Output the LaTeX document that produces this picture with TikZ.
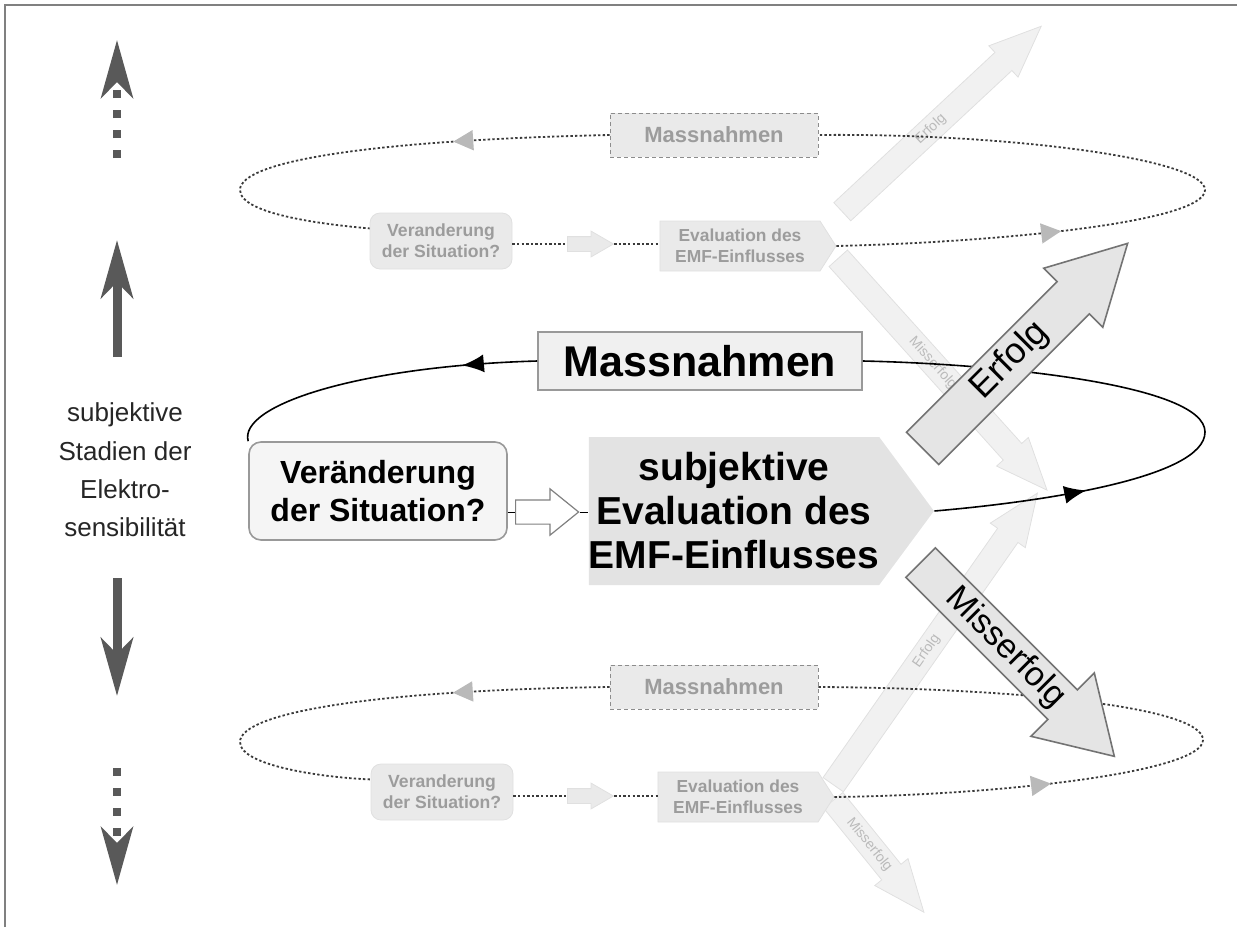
\documentclass[tikz,border=0pt]{standalone}
\usepackage{fontspec}
\setmainfont{Liberation Sans}
\usetikzlibrary{arrows.meta,shapes.arrows,shapes.symbols,decorations.markings}

\definecolor{framegray}{HTML}{808080}
\definecolor{stagegray}{HTML}{595959}
\definecolor{boxfill}{HTML}{F0F0F0}
\definecolor{evalfill}{HTML}{E3E3E3}
\definecolor{fadefill}{HTML}{EAEAEA}
\definecolor{fadetext}{HTML}{9C9C9C}
\definecolor{fadedot}{HTML}{3A3A3A}
\definecolor{ghostfill}{HTML}{F1F1F1}
\definecolor{ghostline}{HTML}{E0E0E0}

\begin{document}
\begin{tikzpicture}[x=0.5pt,y=-0.5pt]
    \tikzstyle{stage}=[draw=stagegray,line width=4.5pt,-{Stealth[length=29pt,width=16pt,inset=8pt]}]
    \tikzstyle{stagedots}=[stage,line width=4pt,dash pattern=on 4pt off 6pt]
    \tikzstyle{bigbox}=[draw=gray!80,fill=boxfill,line width=0.8pt,inner sep=0pt,
        font=\bfseries\fontsize{21.5}{25}\selectfont,minimum width=162pt,minimum height=29pt]
    \tikzstyle{bigchange}=[draw=gray!80,fill=black!4,line width=0.8pt,rounded corners=6pt,
        align=center,font=\bfseries\fontsize{16}{19}\selectfont,minimum width=129pt,minimum height=49pt]
    \tikzstyle{bigeval}=[signal,signal to=east,signal pointer angle=107,fill=evalfill,inner sep=0pt,
        align=center,font=\bfseries\fontsize{19.5}{22}\selectfont,minimum width=168.5pt,minimum height=74pt]
    \tikzstyle{midstep}=[single arrow,draw=gray,fill=white,line width=0.6pt,anchor=tail,
        minimum height=31.5pt,minimum width=22.5pt,single arrow head extend=5.5pt,
        single arrow tip angle=78,inner xsep=0pt,inner ysep=5.75pt]
    \tikzstyle{fadebox}=[draw=gray!90,dash pattern=on 2pt off 1.5pt,fill=fadefill,text=fadetext,inner sep=0pt,
        font=\bfseries\fontsize{11}{13}\selectfont,minimum width=104pt,minimum height=22pt]
    \tikzstyle{fadechange}=[draw=ghostline,fill=fadefill,rounded corners=5pt,text=fadetext,inner sep=0pt,
        align=center,font=\bfseries\fontsize{8.8}{10.5}\selectfont,minimum width=71pt,minimum height=28pt]
    \tikzstyle{fadeeval}=[signal,signal to=east,signal pointer angle=115,draw=ghostline,fill=fadefill,
        text=fadetext,inner sep=0pt,align=center,font=\bfseries\fontsize{8.7}{10.5}\selectfont,
        minimum width=88pt,minimum height=25pt]
    \tikzstyle{fadestep}=[single arrow,draw=ghostline,fill=fadefill,anchor=tail,
        minimum height=23pt,minimum width=12.5pt,single arrow head extend=2.75pt,
        single arrow tip angle=60,inner xsep=0pt,inner ysep=3.5pt]
    \tikzstyle{bigarrow}=[single arrow,draw=gray!90!black,fill=black!10,line width=0.8pt,anchor=tail,
        text height=12.5pt,text depth=3.5pt,inner xsep=0pt]
    \tikzstyle{ghost}=[single arrow,draw=ghostline,fill=ghostfill,anchor=tail,text=fadetext!70,
        font=\fontsize{7}{7}\selectfont,text height=5pt,text depth=1.5pt,inner xsep=0pt,inner ysep=2.75pt,
        minimum width=21pt,single arrow head extend=4.5pt,single arrow tip angle=45]
    \tikzset{mainloop/.style={thick,black,postaction={decorate},decoration={markings,
        mark=at position #1 with {\arrow{Latex[length=11pt,width=9pt]}}}},
      fadeloop/.style={fadedot,line width=0.9pt,dash pattern=on 1.2pt off 1.1pt,postaction={decorate},
        decoration={markings,mark=at position #1 with {\arrow[gray!55]{Triangle[length=10pt,width=10pt]}}}},
      fadeline/.style={fadedot,line width=0.9pt,dash pattern=on 1.2pt off 1.1pt}}

    \useasboundingbox (0,0) rectangle (1237,927);
    \draw[framegray,line width=1.2pt] (5,927) -- (5,5) -- (1237,5);

    % Stages on the left
    \node[font=\fontsize{13}{19.2}\selectfont,align=center,text=black!85] (stadien) at (125,470)
        {subjektive\\Stadien der\\Elektro-\\sensibilität};
    \draw[stagedots] (117,158) -- (117,40);
    \draw[stage] (117,357) -- (117,240);
    \draw[stage] (117,578) -- (117,696);
    \draw[stagedots] (117,768) -- (117,885);

    % Faded arrows behind the levels
    \node[ghost,rotate=43,minimum height=136pt] (erfolgT) at (842,212) {Erfolg};
    \node[ghost,rotate=-48,minimum height=156pt] (misserfolgT) at (838,258) {Misserfolg};
    \node[ghost,rotate=55,minimum height=178pt] (erfolgB) at (833,785) {Erfolg};
    \node[ghost,rotate=-51,minimum height=72pt] (misserfolgB) at (833,800) {Misserfolg};

    % Upper level
    \node[fadebox] (mT) at (714,135) {Massnahmen};
    \node[fadechange] (vT) at (441,241) {Veranderung\\der Situation?};
    \node[fadeeval] (eT) at (740,246) {Evaluation des\\EMF-Einflusses};
    \node[fadestep] (sT) at (567,244) {};
    \draw[fadeline] (vT.east |- sT.tail) -- (sT.tail);
    \draw[fadeline] (sT.tip) -- (eT.west |- sT.tip);
    \draw[fadeloop=0.3] (mT.west) .. controls (380,140) and (240,160) .. (240,190)
        .. controls (240,215) and (330,225) .. (vT.170);
    \draw[fadeloop=0.29] (eT.east) .. controls (1000,242) and (1205,222) .. (1205,190)
        .. controls (1205,158) and (1000,133) .. (mT.east);

    % Lower level
    \node[fadebox] (mB) at (714,687) {Massnahmen};
    \node[fadechange] (vB) at (442,792) {Veranderung\\der Situation?};
    \node[fadeeval] (eB) at (738,797) {Evaluation des\\EMF-Einflusses};
    \node[fadestep] (sB) at (567,796) {};
    \draw[fadeline] (vB.east |- sB.tail) -- (sB.tail);
    \draw[fadeline] (sB.tip) -- (eB.west |- sB.tip);
    \draw[fadeloop=0.3] (mB.west) .. controls (380,690) and (240,712) .. (240,742)
        .. controls (240,767) and (330,778) .. (vB.170);
    \draw[fadeloop=0.28] (eB.east) .. controls (1000,795) and (1203,772) .. (1203,740)
        .. controls (1203,705) and (1000,688) .. (mB.east);

    % Middle level
    \node[bigbox] (mM) at (700,361) {Massnahmen};
    \node[bigchange] (vM) at (378,491) {Veränderung\\der Situation?};
    \node[bigeval] (eM) at (734,511) {subjektive\\Evaluation des\\EMF-Einflusses};
    \node[midstep] (sM) at (515,512) {};
    \draw[thin] (vM.east |- sM.tail) -- (sM.tail);
    \draw[thin] (sM.tip) -- (eM.west |- sM.tip);
    \draw[mainloop=0.24] (mM.west) .. controls (360,366) and (238,405) .. (vM.north west);
    \draw[mainloop=0.235] (eM.east) .. controls (1040,502) and (1205,478) .. (1205,432)
        .. controls (1205,385) and (1000,364) .. (mM.east);

    % Outcomes
    \node[bigarrow,rotate=45,font=\fontsize{18}{18}\selectfont,minimum height=145pt,minimum width=41pt,
        single arrow head extend=9.5pt,single arrow tip angle=57,inner ysep=3pt] (erfolg) at (922,449) {Erfolg};
    \node[bigarrow,rotate=-45,font=\fontsize{17}{17}\selectfont,minimum height=137pt,minimum width=44pt,
        single arrow head extend=12pt,single arrow tip angle=63,inner ysep=2pt] (misserfolg) at (920,562)
        {Misserfolg\hspace{4pt}};
\end{tikzpicture}
\end{document}
